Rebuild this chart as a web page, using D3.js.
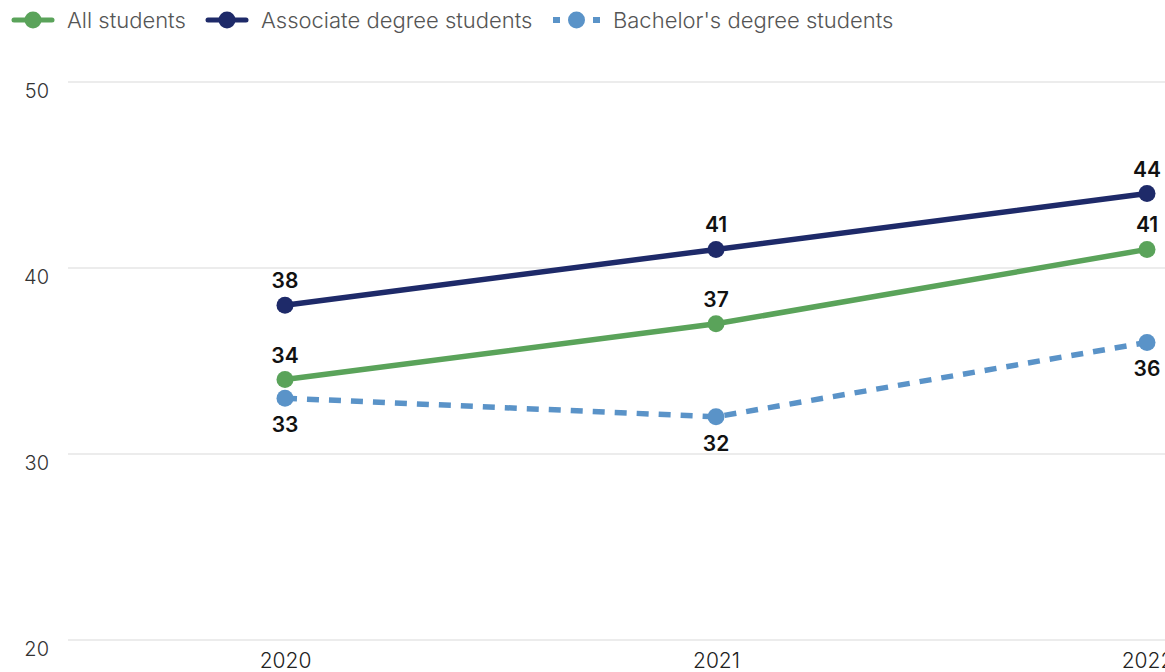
<!DOCTYPE html>
<html><head><meta charset="utf-8">
<script src="https://cdn.jsdelivr.net/npm/d3@7"></script>
<style>body{margin:0;background:#fff;font-family:Inter,"Noto Sans",sans-serif;}</style>
</head><body><svg id="c" width="1165" height="672"></svg>
<script>
const years = ["2020","2021","2022"];
const allStudents = [34, 37, 41];
const associate = [38, 41, 44];
const bachelor = [33, 32, 36];
const yTicks = [20, 30, 40, 50];
const seriesNames = ["All students","Associate degree students","Bachelor's degree students"];

const svg = d3.select("#c");
const x = d3.scalePoint().domain(years).range([285, 1147]);
const y = d3.scaleLinear().domain([20, 50]).range([640, 82]);

// gridlines
svg.append("g").selectAll("line").data(yTicks).join("line")
  .attr("x1", 68).attr("x2", 1165)
  .attr("y1", d => y(d)).attr("y2", d => y(d))
  .attr("stroke", "#e6e6e6").attr("stroke-width", 1.5);

const yAxis = d3.axisLeft(y).tickValues(yTicks).tickSize(0).tickPadding(0);
const gy = svg.append("g").attr("transform", "translate(49,9)").call(yAxis);
gy.select(".domain").remove();
gy.selectAll("text").attr("font-size", 20).attr("font-weight", 300).attr("fill", "#333").attr("font-family", "Inter, sans-serif");

const xAxis = d3.axisBottom(x).tickSize(0).tickPadding(0);
const gx = svg.append("g").attr("transform", "translate(0,653)").call(xAxis);
gx.select(".domain").remove();
gx.selectAll("text").attr("font-size", 21).attr("font-weight", 300).attr("fill", "#222").attr("font-family", "Inter, sans-serif");

const series = [
  {name: seriesNames[0], values: allStudents, color: "#5aa35a", dash: null, labelPos: "above"},
  {name: seriesNames[1], values: associate, color: "#1e2a69", dash: null, labelPos: "above"},
  {name: seriesNames[2], values: bachelor, color: "#5a93c8", dash: "12,10", labelPos: "below"}
];

const line = d3.line().x((d,i) => x(years[i])).y(d => y(d));

const drawOrder = [series[2], series[0], series[1]];
drawOrder.forEach(s => {
  svg.append("path").datum(s.values).attr("d", line)
    .attr("fill", "none").attr("stroke", s.color).attr("stroke-width", 5.5)
    .attr("stroke-dasharray", s.dash);
  svg.append("g").selectAll("circle").data(s.values).join("circle")
    .attr("cx", (d,i) => x(years[i])).attr("cy", d => y(d)).attr("r", 8.5)
    .attr("fill", s.color);
  svg.append("g").selectAll("text").data(s.values).join("text")
    .attr("x", (d,i) => x(years[i])).attr("y", d => y(d) + (s.labelPos === "above" ? -17 : 34))
    .attr("text-anchor", "middle").attr("font-size", 21).attr("font-weight", 600)
    .attr("fill", "#111").attr("font-family", "Inter, sans-serif").text(d => d);
});

// legend
const legendX = [14, 208, 553];
const lg = svg.append("g");
series.forEach((s, i) => {
  const g = lg.append("g").attr("transform", `translate(${legendX[i]},20)`);
  if (s.dash) {
    g.append("rect").attr("x", 0).attr("y", -3).attr("width", 7).attr("height", 6).attr("fill", s.color);
    g.append("rect").attr("x", 40).attr("y", -3).attr("width", 7).attr("height", 6).attr("fill", s.color);
    g.append("circle").attr("cx", 23.5).attr("cy", 0).attr("r", 8.5).attr("fill", s.color);
  } else {
    g.append("line").attr("x1", 0).attr("x2", 38).attr("y1", 0).attr("y2", 0)
      .attr("stroke", s.color).attr("stroke-width", 5).attr("stroke-linecap", "round");
    g.append("circle").attr("cx", 19).attr("cy", 0).attr("r", 8.5).attr("fill", s.color);
  }
  g.append("text").attr("x", s.dash ? 60 : 53).attr("y", 8).attr("font-size", 22).attr("font-weight", 300)
    .attr("fill", "#555").attr("font-family", "Inter, sans-serif").text(s.name);
});
</script></body></html>
